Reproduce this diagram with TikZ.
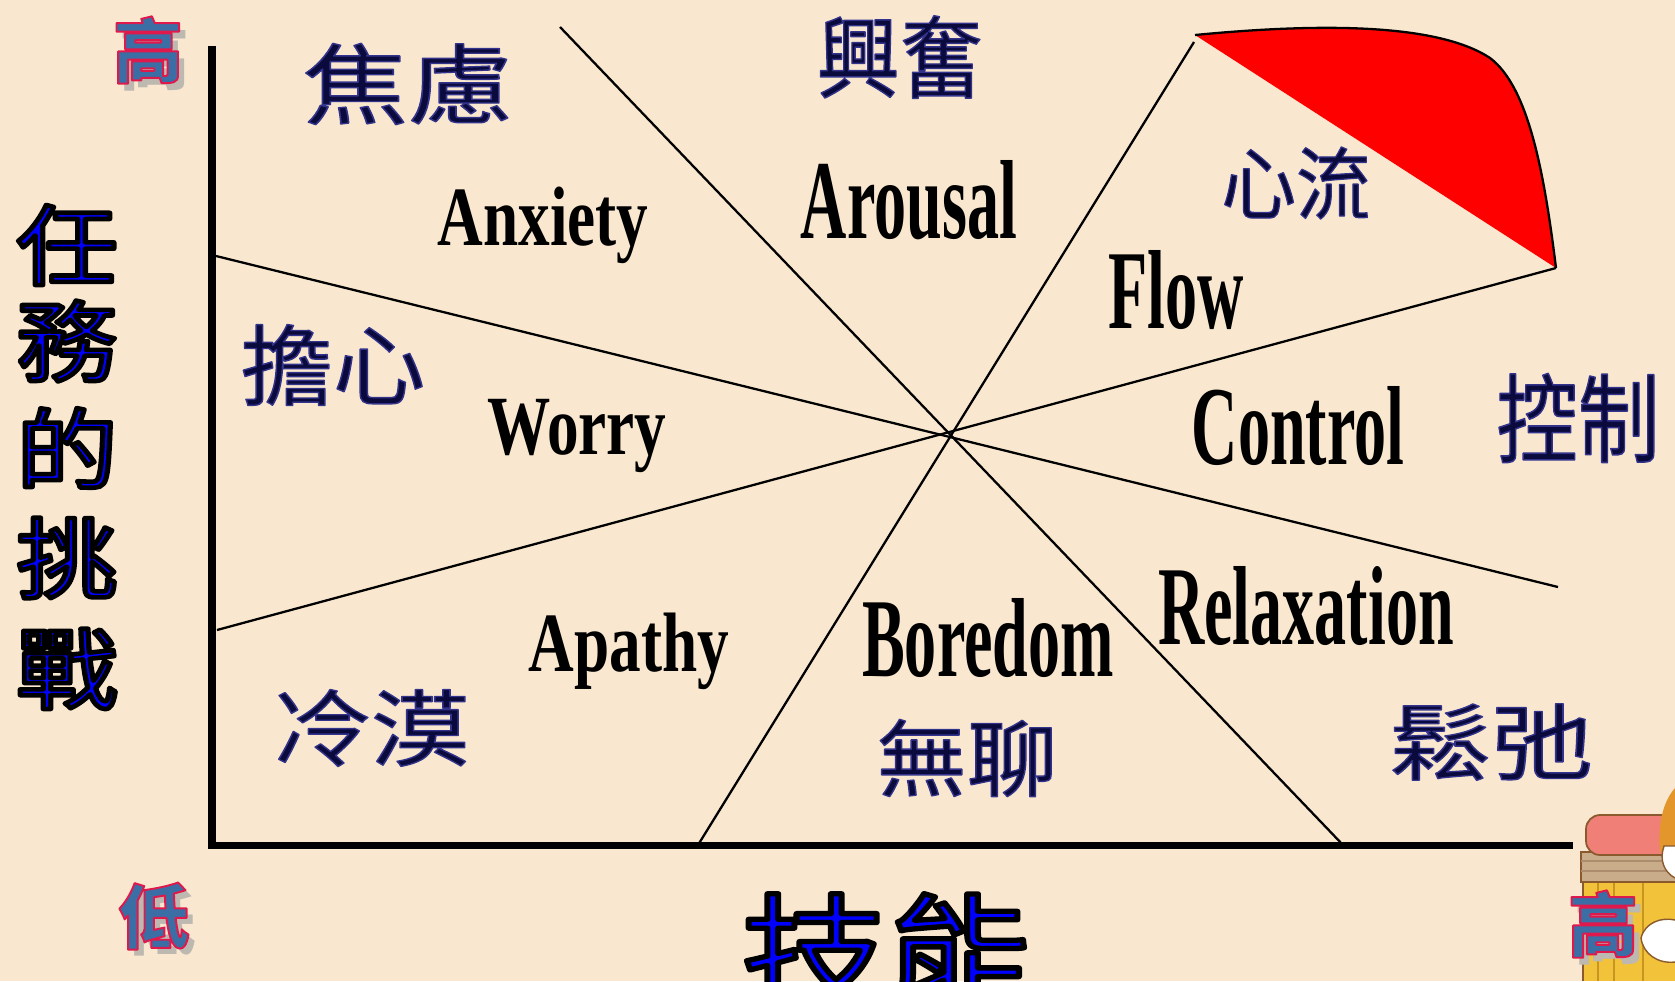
\documentclass[tikz,border=0pt]{standalone}
\usepackage{fontspec}
\setmainfont{Liberation Serif}
\newfontfamily\hanzi{Noto Sans CJK TC}
\usepackage{graphicx}
\usetikzlibrary{positioning}
\definecolor{Paper}{HTML}{F9E8CF}
\definecolor{InkNavy}{HTML}{0A0A3C}
\definecolor{AxisBlue}{HTML}{0000FF}
\definecolor{LevelBlue}{HTML}{3A6EA5}
\definecolor{LevelShade}{HTML}{BDB8B0}
\definecolor{FlowRed}{HTML}{FF0000}
\definecolor{PencilYellow}{HTML}{F2C23A}
\definecolor{PencilLine}{HTML}{C8951E}
\definecolor{PencilBrown}{HTML}{8A5A2E}
\definecolor{BandTan}{HTML}{C9AC8A}
\definecolor{EraserPink}{HTML}{F07F78}
\definecolor{HairOrange}{HTML}{E3962C}

% glyphs filled with the text colour and stroked round the edge
% #1 stroke colour (rgb), #2 stroke width (bp), #3 text
\newcommand{\rimtext}[3]{\special{pdf:literal direct #1 RG #2 w 1 j 2 Tr}#3\special{pdf:literal direct 0 Tr}}
% region name, #1 horizontal stretch, #2 vertical stretch
\newcommand{\zonename}[3]{\scalebox{#1}[#2]{\rimtext{0.2 0.2 0.55}{0.8}{#3}}}

\begin{document}
\begin{tikzpicture}[x=0.02cm,y=-0.02cm,every node/.style={inner sep=0pt},
  zone/.style={font={\hanzi\fontsize{50}{50}\selectfont},text=InkNavy},
  bigword/.style={font={\bfseries\fontsize{64}{64}\selectfont},text=black},
  smallword/.style={font={\bfseries\fontsize{48}{48}\selectfont},text=black},
  axislab/.style={font={\hanzi\fontsize{50}{50}\selectfont},text=AxisBlue},
  level/.style={font={\hanzi\bfseries\fontsize{40}{40}\selectfont},text=LevelBlue},
  shade/.style={font={\hanzi\bfseries\fontsize{40}{40}\selectfont},text=LevelShade},
  ray/.style={line width=1.3pt,black},
  axis/.style={line width=4pt,black}]
  \useasboundingbox[fill=Paper] (0,0) rectangle (1675,981);

  % flow corner
  \coordinate (flowtop) at (1195,35);
  \coordinate (flowend) at (1556,268);
  \fill[FlowRed] (flowtop) .. controls (1330,22) and (1440,25) .. (1490,58)
    .. controls (1530,88) and (1545,180) .. (flowend) -- cycle;
  \draw[ray] (flowtop) .. controls (1330,22) and (1440,25) .. (1490,58)
    .. controls (1530,88) and (1545,180) .. (flowend);

  % the four rays through the middle
  \coordinate (r1a) at (560,27);   \coordinate (r1b) at (1343,845);
  \coordinate (r2a) at (216,256);  \coordinate (r2b) at (1558,587);
  \coordinate (r3a) at (217,630);  \coordinate (r3b) at (flowend);
  \coordinate (r4a) at (698,845);  \coordinate (r4b) at (1194,42);
  \foreach \r in {1,...,4}
    \draw[ray] (r\r a) -- (r\r b);

  % axes
  \coordinate (ytop) at (212,46);
  \coordinate (xend) at (1573,845);
  \draw[axis] (ytop) |- (xend);

  % pencil in the corner
  \fill[PencilYellow] (1583,880) rectangle (1675,981);
  \foreach \s in {1598,1614,1643}
    \draw[PencilLine,line width=1.2pt] (\s,882) -- (\s,981);
  \draw[PencilBrown,line width=1pt] (1583,880) -- (1583,981);
  \fill[BandTan,draw=PencilBrown,line width=0.8pt] (1581,852) rectangle (1690,882);
  \foreach \b in {861,871}
    \draw[PencilBrown!70,line width=0.8pt] (1581,\b) -- (1675,\b);
  \fill[EraserPink,draw=PencilBrown,line width=1pt,rounded corners=8] (1586,815) rectangle (1700,855);
  \fill[HairOrange] (1660,852) .. controls (1657,818) and (1666,798) .. (1675,788) -- (1675,852) -- cycle;
  \fill[white,draw=PencilBrown,line width=0.8pt] (1675,846) -- (1664,846) .. controls (1659,860) and (1664,872) .. (1675,878);
  \fill[white,draw=PencilBrown,line width=0.8pt] (1675,920) .. controls (1662,917) and (1645,922) .. (1641,938)
    .. controls (1643,954) and (1658,964) .. (1675,962);

  % region names
  \node[zone] (jiaolv) at (408,84) {\zonename{1.2}{1}{焦慮}};
  \node[zone] (xingfen) at (900,57) {\zonename{0.95}{1.02}{興奮}};
  \node[zone] (xinliu) at (1296,183) {\zonename{0.85}{0.9}{心流}};
  \node[zone] (danxin) at (333,365) {\zonename{1.05}{1}{擔心}};
  \node[zone] (kongzhi) at (1578,418) {\zonename{0.93}{1.1}{控制}};
  \node[zone] (lengmo) at (371,728) {\zonename{1.12}{0.95}{冷漠}};
  \node[zone] (wuliao) at (967,758) {\zonename{1.03}{0.95}{無聊}};
  \node[zone] (songchi) at (1491,742) {\zonename{1.16}{0.95}{鬆弛}};

  \node[smallword] (anxiety) at (543,225) {\scalebox{0.75}[1]{Anxiety}};
  \node[bigword] (arousal) at (909,200) {\scalebox{0.57}[1]{Arousal}};
  \node[bigword] (flow) at (1176,290) {\scalebox{0.57}[1]{Flow}};
  \node[smallword] (worry) at (577,436) {\scalebox{0.75}[1]{Worry}};
  \node[bigword] (control) at (1298,426) {\scalebox{0.57}[1]{Control}};
  \node[smallword] (apathy) at (629,651) {\scalebox{0.75}[1]{Apathy}};
  \node[bigword] (boredom) at (988,638) {\scalebox{0.57}[1]{Boredom}};
  \node[bigword] (relax) at (1306,606) {\scalebox{0.57}[1]{Relaxation}};

  % axis titles
  \foreach \c/\y [count=\k] in {任/245,務/341,的/448,挑/558,戰/669}
    \node[axislab] (task\k) at (67,\y) {\scalebox{1.15}[1]{\rimtext{0 0 0}{2.6}{\c}}};
  \node[axislab,font={\hanzi\fontsize{72}{72}\selectfont}] (skill) at (887,952)
    {\scalebox{1.15}[1]{\rimtext{0 0 0}{3}{技能}}};

  % high / low marks
  \node[shade] (hiYs) at (155,57) {高};
  \node[level] (hiY) at (148,50) {\rimtext{0.88 0.1 0.3}{1.1}{高}};
  \node[shade] (loYs) at (161,923) {低};
  \node[level] (loY) at (154,916) {\rimtext{0.88 0.1 0.3}{1.1}{低}};
  \node[shade] (hiXs) at (1610,931) {高};
  \node[level] (hiX) at (1603,924) {\rimtext{0.88 0.1 0.3}{1.1}{高}};
\end{tikzpicture}
\end{document}
